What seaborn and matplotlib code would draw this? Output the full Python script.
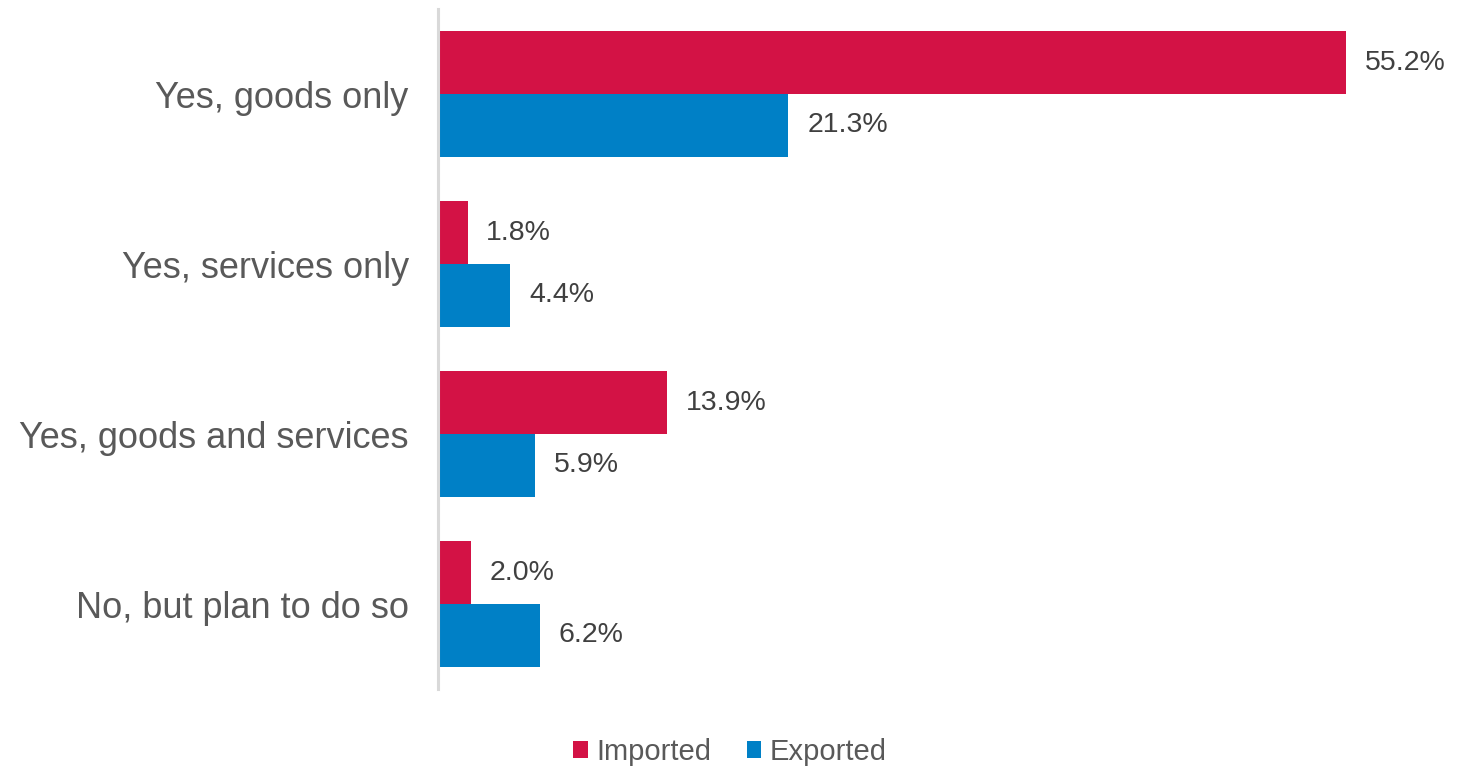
import matplotlib
matplotlib.use("Agg")
import matplotlib.pyplot as plt
import seaborn as sns
import pandas as pd

categories = ["Yes, goods only", "Yes, services only", "Yes, goods and services", "No, but plan to do so"]
imported = [55.2, 1.8, 13.9, 2.0]
exported = [21.3, 4.4, 5.9, 6.2]
series = ["Imported", "Exported"]
colors = ["#D31245", "#0080C6"]

df = pd.DataFrame({
    "category": categories * 2,
    "value": imported + exported,
    "series": [series[0]] * len(categories) + [series[1]] * len(categories),
})

sns.set_theme(style="white")
plt.rcParams["font.family"] = ["Liberation Sans", "DejaVu Sans"]

fig = plt.figure(figsize=(14.62, 7.68), dpi=100)
ax = fig.add_axes([438 / 1462, 1 - 689 / 768, 987 / 1462, 680 / 768])

sns.barplot(data=df, y="category", x="value", hue="series", order=categories,
            hue_order=series, palette=colors, orient="h", width=0.74,
            saturation=1, linewidth=0, ax=ax, legend=True)

ax.set_xlim(0, 60)
ax.set_ylim(3.5, -0.5)
ax.set_xlabel("")
ax.set_ylabel("")
ax.set_xticks([])
for s in ["top", "right", "bottom"]:
    ax.spines[s].set_visible(False)
ax.spines["left"].set_color("#D9D9D9")
ax.spines["left"].set_linewidth(2.2)
ax.tick_params(axis="y", length=0, pad=21, labelsize=26, labelcolor="#595959")

for container in ax.containers:
    labels = [f"{v:.1f}%" for v in container.datavalues]
    ax.bar_label(container, labels=labels, padding=13.5, fontsize=20.5, color="#404040")

handles, lbls = ax.get_legend_handles_labels()
ax.legend(handles, lbls, loc="center", bbox_to_anchor=(730 / 1462, 1 - 752 / 768),
          bbox_transform=fig.transFigure, ncol=2, frameon=False, fontsize=21,
          handlelength=0.5, handleheight=0.5, handletextpad=0.3, columnspacing=1.2,
          labelcolor="#595959", borderpad=0)

fig.savefig("out.png", dpi=100)
